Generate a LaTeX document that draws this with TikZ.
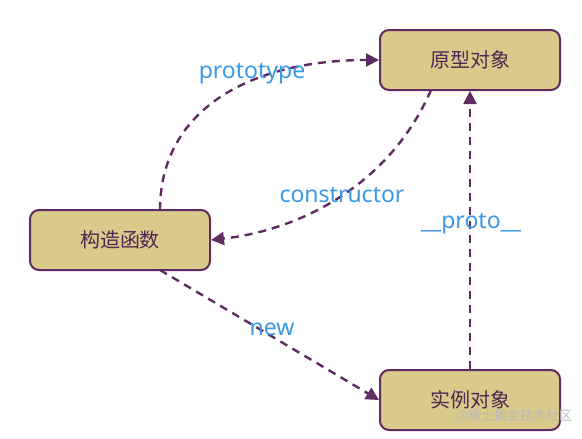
\documentclass[tikz,border=0pt]{standalone}
\usepackage{fontspec}
\setmainfont{Noto Sans}
\newfontfamily\cjk{Noto Sans CJK SC}
\usetikzlibrary{arrows.meta}
\definecolor{boxfill}{RGB}{216,202,138}
\definecolor{boxline}{RGB}{94,44,96}
\definecolor{lblue}{RGB}{58,152,228}
\definecolor{wmark}{RGB}{185,185,185}
\tikzset{
  objbox/.style={draw=boxline, fill=boxfill, line width=2pt, rounded corners=9pt,
    minimum width=180pt, minimum height=60pt, inner sep=0pt,
    font=\cjk\fontsize{20}{22}\selectfont, text=boxline!85!black},
  link/.style={draw=boxline, line width=2.4pt, dash pattern=on 8pt off 6pt,
    -{Triangle[length=13pt,width=13pt]}},
  lbl/.style={text=lblue, font=\fontsize{23}{26}\selectfont, inner sep=0pt},
}
\begin{document}
\begin{tikzpicture}[x=1pt,y=-1pt]
\useasboundingbox (0,0) rectangle (582,439);
\node[objbox] (proto) at (470,60) {原型对象};
\node[objbox] (ctor) at (120,240) {构造函数};
\node[objbox] (inst) at (470,400) {实例对象};
\coordinate (ctortop) at (160,210);
\coordinate (ctorbot) at (160,270);
\coordinate (protobot) at (431,90);
\draw[link] (ctortop) .. controls (160,110) and (250,60) .. (proto.west);
\draw[link] (protobot) .. controls (390,185) and (300,230) .. (ctor.east);
\draw[link] (ctorbot) -- (inst.west);
\draw[link] (inst.north) -- (proto.south);
\node[lbl] (lp) at (252,74) {prototype};
\node[lbl] (lc) at (342,195) {constructor};
\node[lbl] (lpp) at (471,224) {\_\_proto\_\_};
\node[lbl] (ln) at (272,329) {new};
\node[text=wmark, font=\cjk\fontsize{13}{15}\selectfont, inner sep=0pt] (wm) at (514,416) {@稀土掘金技术社区};
\end{tikzpicture}
\end{document}
